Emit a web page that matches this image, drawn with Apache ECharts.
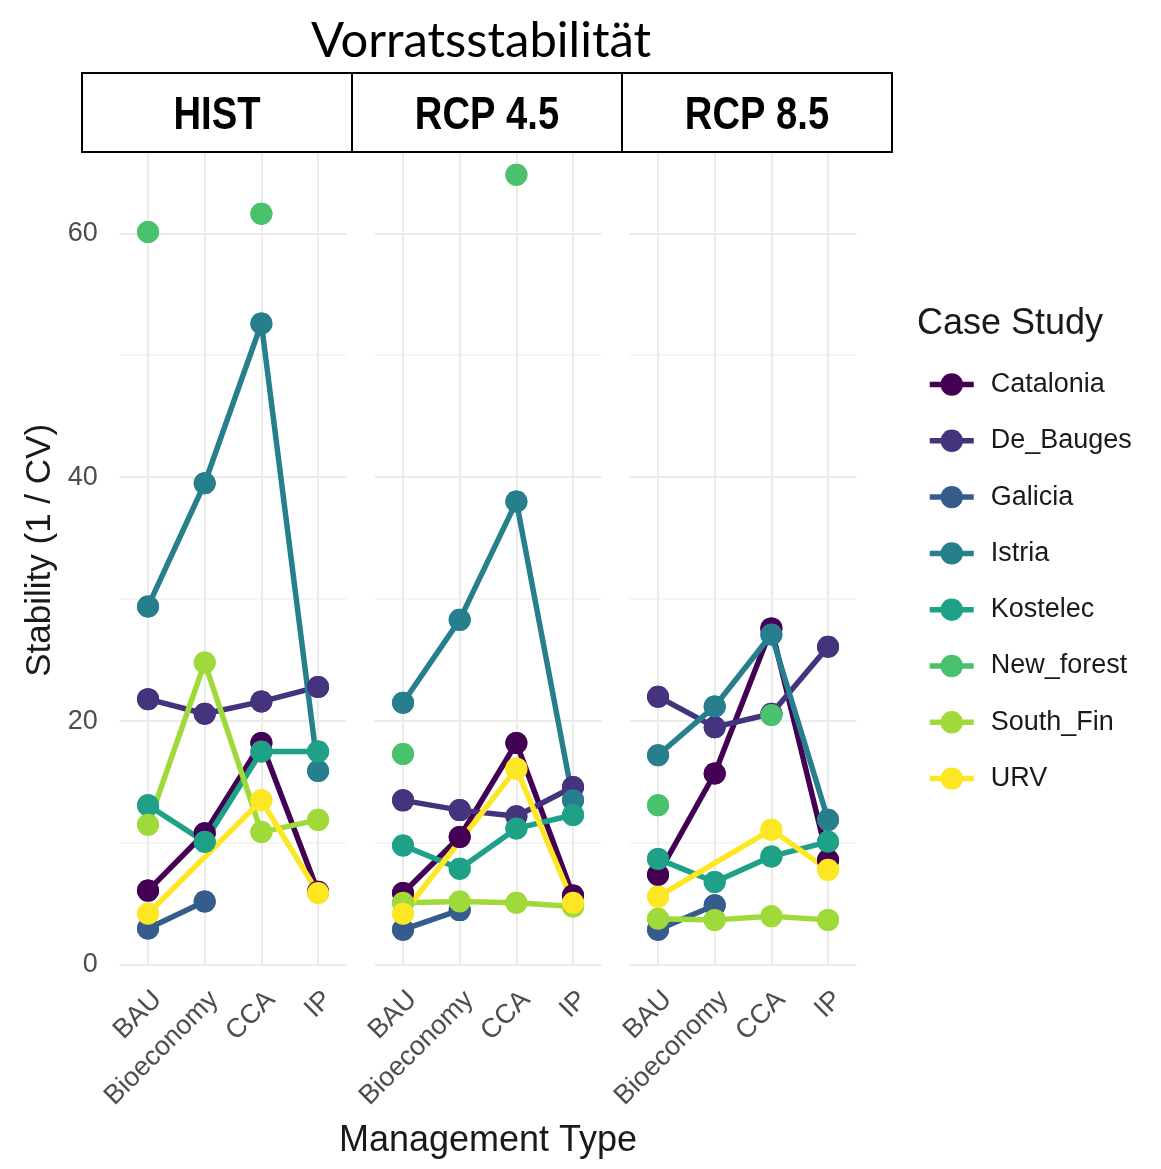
<!DOCTYPE html>
<html>
<head>
<meta charset="utf-8">
<script src="https://cdn.jsdelivr.net/npm/echarts@6/dist/echarts.min.js"></script>
<style>
  html, body { margin: 0; padding: 0; background: #ffffff; }
  #chart { width: 1161px; height: 1169px; }
</style>
</head>
<body>
<div id="chart"></div>
<script>
// Management types on each panel's x axis, scenarios as facets
const managementTypes = ['BAU', 'Bioeconomy', 'CCA', 'IP'];
const scenarios = ['HIST', 'RCP 4.5', 'RCP 8.5'];
const caseStudies = ['Catalonia', 'De_Bauges', 'Galicia', 'Istria', 'Kostelec', 'New_forest', 'South_Fin', 'URV'];
const yTickLabels = [0, 20, 40, 60];

// Stability (1 / CV) per case study; one row per scenario, columns follow managementTypes
const catalonia = [[6.1, 10.8, 18.2, 6.0], [5.9, 10.5, 18.2, 5.7], [7.4, 15.7, 27.6, 8.6]];
const deBauges  = [[21.8, 20.6, 21.6, 22.8], [13.5, 12.7, 12.2, 14.6], [22.0, 19.5, 20.6, 26.1]];
const galicia   = [[3.0, 5.2, null, null], [2.9, 4.5, null, null], [2.9, 4.9, null, null]];
const istria    = [[29.4, 39.5, 52.6, 15.9], [21.5, 28.3, 38.0, 13.5], [17.2, 21.2, 27.1, 11.9]];
const kostelec  = [[13.1, 10.1, 17.5, 17.5], [9.8, 7.9, 11.2, 12.3], [8.7, 6.8, 8.9, 10.1]];
const newForest = [[60.1, null, 61.6, null], [17.3, null, 64.8, null], [13.1, null, 20.5, null]];
const southFin  = [[11.5, 24.8, 10.9, 11.9], [5.1, 5.2, 5.1, 4.8], [3.8, 3.7, 4.0, 3.7]];
const urv       = [[4.2, null, 13.5, 5.9], [4.2, null, 16.1, 5.1], [5.6, null, 11.1, 7.8]];

const seriesValues = [catalonia, deBauges, galicia, istria, kostelec, newForest, southFin, urv];

// URV has no Bioeconomy run, so its line runs straight from BAU to CCA;
// the other gaps are missing values and break the line
const joinedAcrossGaps = ['URV'];

// viridis, 8 levels
const palette = ['#440154', '#46337E', '#365C8D', '#277F8E', '#1FA187', '#4AC16D', '#9FDA3A', '#FDE725'];

const tickColor = '#4D4D4D';
const textFont = 'Liberation Sans, Arial, sans-serif';
const pointSize = 22;
const lineWidth = 5.5;

// panel geometry
const panelLeft = [119.7, 374.7, 629.7];
const panelWidth = 226.7;
const panelTop = 135.7;
const panelBottom = 204;

const grids = panelLeft.map(l => ({
  left: l, width: panelWidth, top: panelTop, bottom: panelBottom, containLabel: false
}));

const xAxes = scenarios.map((s, i) => ({
  type: 'category',
  gridIndex: i,
  data: managementTypes,
  boundaryGap: true,
  axisLine: { show: false },
  axisTick: { show: false },
  splitLine: { show: true, alignWithLabel: true, lineStyle: { color: '#EBEBEB', width: 2 } },
  axisLabel: {
    rotate: 45, margin: 21, fontSize: 27, color: tickColor, fontFamily: textFont, interval: 0,
    verticalAlign: 'top'
  },
  name: i === 1 ? 'Management Type' : '',
  nameLocation: 'middle',
  nameGap: 158,
  nameTextStyle: { fontSize: 36, color: '#1A1A1A', fontFamily: textFont }
}));

const yAxes = scenarios.map((s, i) => ({
  type: 'value',
  gridIndex: i,
  min: 0,
  max: 68,
  interval: 10,
  axisLine: { show: false },
  axisTick: { show: false },
  splitLine: { show: true, lineStyle: { color: ['#EBEBEB', '#F5F5F5'], width: 2 } },
  axisLabel: {
    show: i === 0, margin: 22, fontSize: 27, color: tickColor, fontFamily: textFont,
    formatter: v => (yTickLabels.includes(v) ? String(v) : '')
  },
  name: i === 0 ? 'Stability (1 / CV)' : '',
  nameLocation: 'middle',
  nameGap: 62,
  nameRotate: 90,
  nameTextStyle: { fontSize: 35, color: '#1A1A1A', fontFamily: textFont }
}));

const series = [];
scenarios.forEach((s, p) => {
  caseStudies.forEach((name, c) => {
    series.push({
      type: 'line',
      name: name,
      xAxisIndex: p,
      yAxisIndex: p,
      data: seriesValues[c][p],
      connectNulls: joinedAcrossGaps.includes(name),
      symbol: 'circle',
      symbolSize: pointSize,
      showSymbol: true,
      lineStyle: { width: lineWidth, color: palette[c] },
      itemStyle: { color: palette[c] },
      emphasis: { disabled: true },
      z: 2
    });
  });
});
// points are drawn over every line
scenarios.forEach((s, p) => {
  caseStudies.forEach((name, c) => {
    series.push({
      type: 'scatter',
      name: name,
      xAxisIndex: p,
      yAxisIndex: p,
      data: seriesValues[c][p],
      symbol: 'circle',
      symbolSize: pointSize,
      itemStyle: { color: palette[c], opacity: 1 },
      emphasis: { disabled: true },
      z: 3
    });
  });
});

// headline and facet strip
const stripLeft = 82, stripTop = 73, stripWidth = 810, stripHeight = 79;
const stripCells = scenarios.length;
const graphic = [
  {
    type: 'text', z: 10,
    style: { text: 'Vorratsstabilität', x: 481, y: 41, align: 'center', verticalAlign: 'middle',
             font: '49px Lato, "Open Sans", sans-serif', fill: '#000' }
  },
  {
    type: 'rect', z: 10,
    shape: { x: stripLeft, y: stripTop, width: stripWidth, height: stripHeight },
    style: { fill: '#ffffff', stroke: '#000', lineWidth: 2 }
  }
];
for (let k = 1; k < stripCells; k++) {
  const xDiv = stripLeft + stripWidth * k / stripCells;
  graphic.push({
    type: 'line', z: 11,
    shape: { x1: xDiv, y1: stripTop, x2: xDiv, y2: stripTop + stripHeight },
    style: { stroke: '#000', lineWidth: 2 }
  });
}
scenarios.forEach((s, k) => {
  graphic.push({
    type: 'text', z: 12,
    x: stripLeft + stripWidth * (k + 0.5) / stripCells,
    y: stripTop + stripHeight / 2 + 4,
    scaleX: 0.83,
    style: {
      text: s, x: 0, y: 0,
      align: 'center', verticalAlign: 'middle',
      font: 'bold 46px "Liberation Sans", Arial, sans-serif',
      fill: '#000'
    }
  });
});

const option = {
  animation: false,
  backgroundColor: '#ffffff',
  title: {
    text: 'Case Study',
    left: 912,
    top: 301,
    textStyle: { fontSize: 36, fontWeight: 'normal', color: '#1A1A1A', fontFamily: textFont }
  },
  legend: {
    data: caseStudies,
    orient: 'vertical',
    left: 922,
    top: 366,
    itemWidth: 44,
    itemHeight: 28,
    itemGap: 29.3,
    selectedMode: false,
    lineStyle: { width: lineWidth },
    textStyle: { fontSize: 27, color: '#1A1A1A', fontFamily: textFont, padding: [0, 0, 0, 12] }
  },
  grid: grids,
  xAxis: xAxes,
  yAxis: yAxes,
  series: series,
  graphic: graphic
};

const chart = echarts.init(document.getElementById('chart'), null, { renderer: 'canvas' });
chart.setOption(option);
</script>
</body>
</html>
